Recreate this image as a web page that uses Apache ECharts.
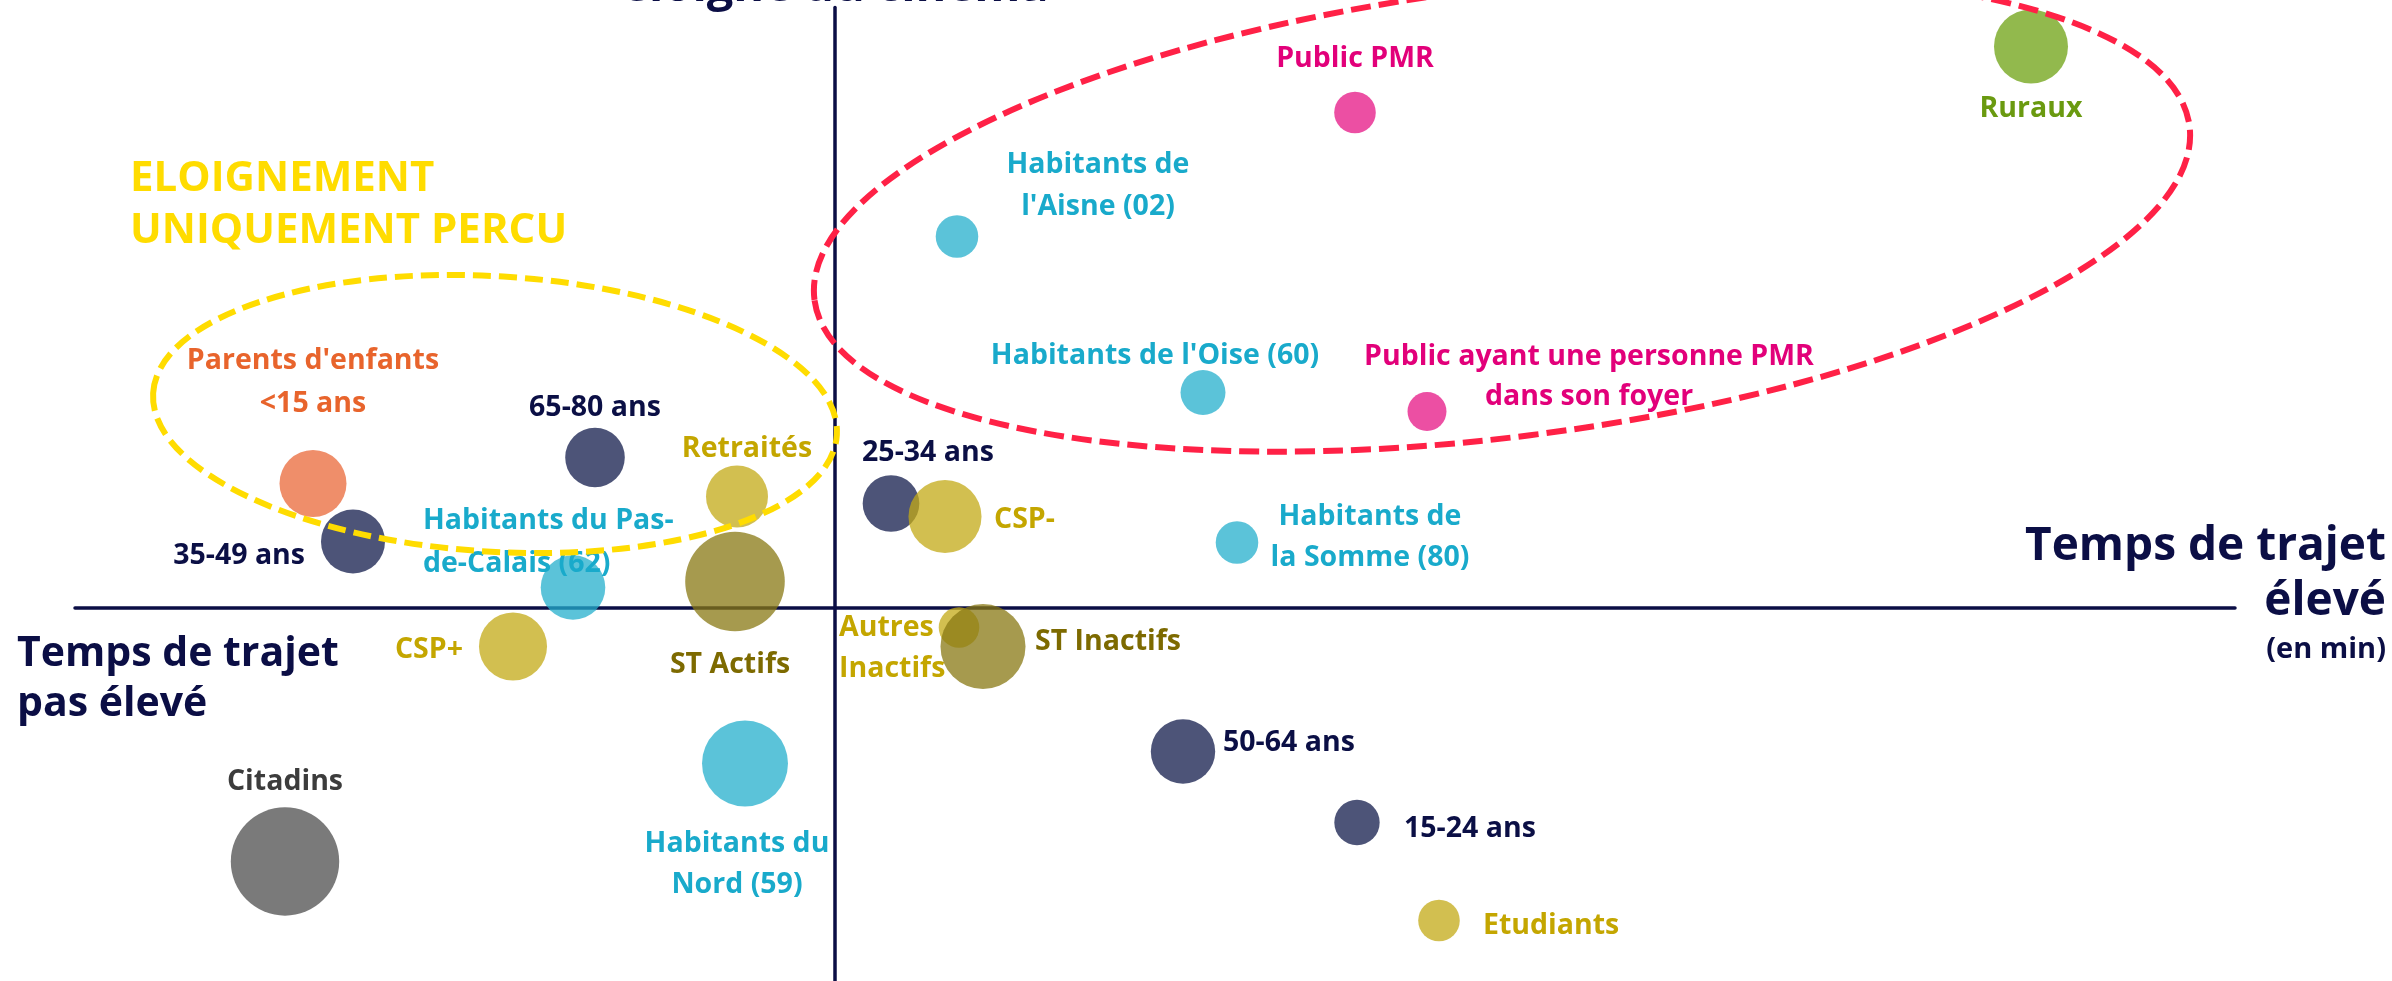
<!DOCTYPE html>
<html lang="fr">
<head>
<meta charset="utf-8">
<title>Temps de trajet et sentiment d'éloignement du cinéma</title>
<script src="https://cdn.jsdelivr.net/npm/echarts@6/dist/echarts.min.js"></script>
<style>
  html, body { margin: 0; padding: 0; background: #ffffff; }
  #chart { width: 2392px; height: 981px; }
</style>
</head>
<body>
<div id="chart"></div>
<script>
// Publics étudiés (texte affiché à côté de chaque bulle)
const publics = [
  'Ruraux', 'Public PMR', "Habitants de\nl'Aisne (02)", "Habitants de l'Oise (60)",
  'Public ayant une personne PMR\ndans son foyer', "Parents d'enfants\n<15 ans",
  '65-80 ans', 'Retraités', '25-34 ans', 'CSP-', '35-49 ans',
  'Habitants du Pas-\nde-Calais (62)', 'ST Actifs', 'Habitants de\nla Somme (80)',
  'CSP+', 'Autres\nInactifs', 'ST Inactifs', '50-64 ans', '15-24 ans', 'Etudiants',
  'Habitants du\nNord (59)', 'Citadins'
];
// Famille de chaque public (donne la couleur)
const groupes = [
  'ruraux', 'pmr', 'departement', 'departement', 'pmr', 'parents',
  'age', 'csp', 'age', 'csp', 'age',
  'departement', 'statut', 'departement',
  'csp', 'csp', 'statut', 'age', 'age', 'csp',
  'departement', 'citadins'
];
// Écart au temps de trajet moyen (axe horizontal)
const tempsTrajet = [
  59.8, 26.0, 6.1, 18.4, 29.6, -26.1,
  -12.0, -4.9, 2.8, 5.5, -24.1,
  -13.1, -5.0, 20.1,
  -16.1, 6.2, 7.4, 17.4, 26.1, 30.2,
  -4.5, -27.5
];
// Écart au sentiment d'éloignement moyen (axe vertical)
const eloignement = [
  56.1, 49.5, 37.1, 21.5, 19.6, 12.4,
  15.0, 11.1, 10.4, 9.1, 6.6,
  2.0, 2.6, 6.5,
  -3.9, -2.0, -3.9, -14.4, -21.5, -31.3,
  -15.6, -25.4
];
// Poids de chaque public (surface des bulles)
const effectifs = [
  46.6, 14.7, 15.4, 17.2, 12.9, 38.2,
  30.2, 32.7, 27.3, 45.4, 34.9,
  35.5, 84.4, 15.4,
  39.4, 14.0, 61.5, 35.3, 17.5, 14.7,
  62.9, 100
];

// Couleurs par famille : bulle (translucide) et texte
const couleurBulle = {
  age: [18, 27, 75], csp: [195, 170, 22], statut: [136, 120, 19], departement: [36, 175, 204],
  pmr: [230, 20, 132], parents: [233, 104, 56], ruraux: [110, 162, 18], citadins: [78, 78, 78]
};
const couleurTexte = {
  age: '#0b0f45', csp: '#c4a600', statut: '#7d6a00', departement: '#19aacb',
  pmr: '#e2007a', parents: '#e8642c', ruraux: '#6a9a10', citadins: '#3c3c3c'
};

// Placement de chaque étiquette par rapport au centre de sa bulle : [dx, dy, alignement, interligne]
const placementEtiquettes = [
  [0, 62, 'center'], [0, -54, 'center'], [141, -51, 'center', 42], [-48, -37, 'center'],
  [162, -35, 'center', 40], [0, -101, 'center', 43],
  [0, -50, 'center'], [10, -48, 'center'], [37, -51, 'center'], [49, 3, 'left'], [-48, 14, 'right'],
  [-150, -45, 'left', 43], [-5, 83, 'center'], [133, -5, 'center', 40.5],
  [-50, 3, 'right'], [-120, 21, 'left', 41], [52, -5, 'left'], [40, -9, 'left'], [47, 6, 'left'], [44, 5, 'left'],
  [-8, 101, 'center', 40.5], [0, -80, 'center']
];

// Zones entourées : centre en coordonnées des axes, demi-axes en pixels, inclinaison en degrés
const zones = [
  { centre: [-17, 19.35], rx: 342.5, ry: 137.7, inclinaison: -3.5, couleur: '#ffdc00', tirets: [18, 8] },
  { centre: [33.35, 39.45], rx: 693, ry: 224, inclinaison: 7.2, couleur: '#ff2146', tirets: [20, 8] }
];

const POLICE = "'Open Sans', 'DejaVu Sans', sans-serif";
const NAVY = '#0b0e45';

function rgba(c, a) { return 'rgba(' + c[0] + ',' + c[1] + ',' + c[2] + ',' + a + ')'; }

const donnees = publics.map((nom, i) => {
  const g = groupes[i];
  const p = placementEtiquettes[i];
  return {
    name: nom,
    value: [tempsTrajet[i], eloignement[i], effectifs[i]],
    itemStyle: { color: rgba(couleurBulle[g], 0.75), opacity: 1 },
    label: {
      show: true,
      position: 'inside',
      align: p[2],
      verticalAlign: 'middle',
      lineHeight: p[3] || 41,
      color: couleurTexte[g],
      fontFamily: POLICE,
      fontWeight: 'bold',
      fontSize: 28.5,
      formatter: '{b}'
    }
  };
});

const chart = echarts.init(document.getElementById('chart'), null, { renderer: 'canvas' });

chart.setOption({
  animation: false,
  backgroundColor: '#ffffff',
  grid: { left: 75, top: 7.5, width: 2160, height: 980, containLabel: false, outerBoundsMode: 'none' },
  xAxis: {
    type: 'value', min: -38, max: 70,
    axisLine: { show: true, onZero: true, lineStyle: { color: NAVY, width: 3.5 } },
    axisTick: { show: false }, axisLabel: { show: false }, splitLine: { show: false }
  },
  yAxis: {
    type: 'value', min: -38, max: 60,
    axisLine: { show: true, onZero: true, lineStyle: { color: NAVY, width: 3.5 } },
    axisTick: { show: false }, axisLabel: { show: false }, splitLine: { show: false }
  },
  series: [{
    type: 'scatter',
    data: donnees,
    symbol: 'circle',
    symbolSize: v => 10.84 * Math.sqrt(v[2]),
    itemStyle: { opacity: 1 },
    emphasis: { disabled: true },
    labelLayout: params => {
      const p = placementEtiquettes[params.dataIndex];
      return { dx: p[0], dy: p[1], align: p[2], verticalAlign: 'middle', hideOverlap: false };
    }
  }]
});

// Annotations : zones pointillées et titres des axes
const origine = chart.convertToPixel({ gridIndex: 0 }, [0, 0]);
const graphiques = zones.map(z => {
  const c = chart.convertToPixel({ gridIndex: 0 }, z.centre);
  return {
    type: 'ellipse',
    x: c[0], y: c[1],
    rotation: z.inclinaison * Math.PI / 180,
    shape: { cx: 0, cy: 0, rx: z.rx, ry: z.ry },
    style: { fill: 'none', stroke: z.couleur, lineWidth: 6, lineDash: z.tirets },
    z: 100, silent: true
  };
});

function texte(contenu, x, y, taille, couleur, align, interligne) {
  return {
    type: 'text', x: x, y: y, z: 110, silent: true,
    style: {
      text: contenu, fill: couleur, fontFamily: POLICE, fontWeight: 'bold',
      fontSize: taille, lineHeight: interligne || taille * 1.25,
      align: align, verticalAlign: 'middle'
    }
  };
}

graphiques.push(
  texte('éloigné du cinéma', origine[0], -12, 47, NAVY, 'center'),
  texte('Temps de trajet\npas élevé', 17, 679, 41, NAVY, 'left', 50),
  texte('Temps de trajet\nélevé', 2386, 574, 46, NAVY, 'right', 55),
  texte('(en min)', 2386, 650, 29, NAVY, 'right'),
  texte('ELOIGNEMENT\nUNIQUEMENT PERCU', 130, 205, 42, '#ffdc00', 'left', 51.5)
);

chart.setOption({ graphic: graphiques });
</script>
</body>
</html>
